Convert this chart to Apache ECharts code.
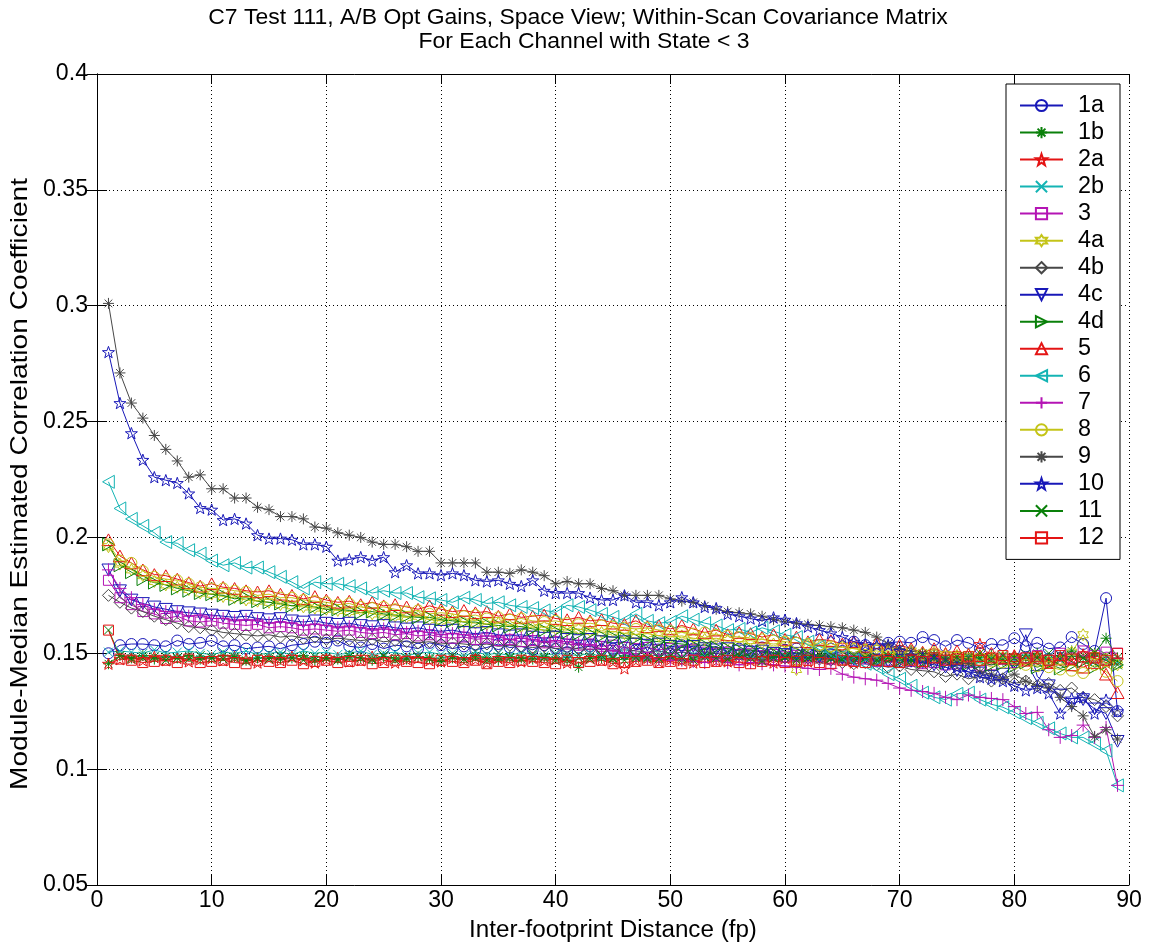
<!DOCTYPE html>
<html>
<head>
<meta charset="utf-8">
<title>C7 Test 111 Within-Scan Correlation</title>
<script src="https://cdn.jsdelivr.net/npm/echarts@6/dist/echarts.min.js"></script>
<style>
  html, body { margin: 0; padding: 0; background: #fff; }
  #chart { width: 1149px; height: 951px; }
</style>
</head>
<body>
<div id="chart"></div>
<script>
// Inter-footprint distance (fp)
const dist = [1,2,3,4,5,6,7,8,9,10,11,12,13,14,15,16,17,18,19,20,21,22,23,24,25,26,27,28,29,30,
  31,32,33,34,35,36,37,38,39,40,41,42,43,44,45,46,47,48,49,50,51,52,53,54,55,56,57,58,59,60,
  61,62,63,64,65,66,67,68,69,70,71,72,73,74,75,76,77,78,79,80,81,82,83,84,85,86,87,88,89];

// Module-median estimated correlation coefficient, one array per channel
const ch1a = [0.150,0.1535,0.154,0.154,0.1535,0.153,0.1555,0.154,0.1545,0.1555,
  0.153,0.1535,0.152,0.1525,0.153,0.152,0.1535,0.154,0.155,0.1545,
  0.1555,0.153,0.1525,0.154,0.152,0.1535,0.153,0.152,0.1545,0.1535,
  0.152,0.153,0.1515,0.1525,0.154,0.1525,0.153,0.1515,0.1535,0.152,
  0.1505,0.1525,0.153,0.1515,0.152,0.150,0.1515,0.1525,0.151,0.150,
  0.1535,0.152,0.1515,0.153,0.1505,0.152,0.151,0.1525,0.150,0.1515,
  0.152,0.150,0.1535,0.152,0.151,0.155,0.1535,0.152,0.1545,0.155,
  0.1545,0.157,0.1557,0.153,0.1557,0.1545,0.152,0.154,0.1535,0.1565,
  0.153,0.1545,0.152,0.1525,0.157,0.154,0.151,0.1738,0.125];
const ch1b = [0.1455,0.149,0.148,0.149,0.1475,0.1485,0.148,0.149,0.1475,0.148,
  0.149,0.1485,0.147,0.148,0.1485,0.1475,0.148,0.149,0.147,0.148,
  0.1475,0.149,0.148,0.147,0.1485,0.148,0.1475,0.1485,0.148,0.1465,
  0.148,0.1475,0.149,0.148,0.147,0.1485,0.148,0.1475,0.1485,0.148,
  0.147,0.144,0.1485,0.148,0.1475,0.149,0.148,0.1475,0.148,0.1485,
  0.147,0.148,0.1495,0.148,0.1475,0.149,0.148,0.147,0.1485,0.148,
  0.1475,0.149,0.148,0.1485,0.147,0.148,0.149,0.1475,0.148,0.1485,
  0.147,0.148,0.1495,0.148,0.147,0.1485,0.148,0.149,0.147,0.1485,
  0.148,0.150,0.1475,0.149,0.151,0.148,0.150,0.1565,0.148];
const ch2a = [0.1455,0.1475,0.148,0.147,0.1485,0.147,0.148,0.1465,0.1475,0.148,
  0.147,0.1485,0.1475,0.146,0.148,0.147,0.1485,0.147,0.146,0.1475,
  0.148,0.1465,0.147,0.1485,0.147,0.146,0.1475,0.148,0.147,0.1465,
  0.148,0.147,0.1475,0.146,0.148,0.147,0.1465,0.148,0.147,0.1475,
  0.146,0.1475,0.148,0.147,0.1465,0.1435,0.147,0.148,0.1465,0.1475,
  0.147,0.146,0.148,0.147,0.1465,0.148,0.147,0.1475,0.146,0.148,
  0.147,0.1465,0.148,0.1475,0.147,0.146,0.148,0.147,0.1485,0.147,
  0.1475,0.146,0.148,0.1475,0.149,0.147,0.154,0.148,0.1475,0.149,
  0.147,0.1485,0.146,0.148,0.147,0.1495,0.148,0.146,0.147];
const ch2b = [0.1505,0.151,0.1505,0.150,0.1515,0.150,0.1505,0.151,0.150,0.1495,
  0.1505,0.150,0.151,0.1495,0.150,0.1505,0.1495,0.151,0.150,0.1505,
  0.1495,0.150,0.151,0.1495,0.150,0.1505,0.149,0.150,0.1505,0.1495,
  0.150,0.149,0.1505,0.1495,0.150,0.149,0.1505,0.1495,0.149,0.150,
  0.1495,0.149,0.150,0.1485,0.1495,0.150,0.149,0.1485,0.1495,0.149,
  0.1485,0.1495,0.149,0.148,0.1495,0.1485,0.149,0.148,0.1485,0.149,
  0.148,0.1485,0.1475,0.149,0.148,0.1485,0.1475,0.148,0.149,0.1475,
  0.148,0.147,0.1485,0.148,0.1475,0.149,0.147,0.148,0.1485,0.147,
  0.148,0.1465,0.1485,0.147,0.149,0.148,0.1465,0.1475,0.146];
const ch3 = [0.1815,0.174,0.171,0.168,0.167,0.165,0.166,0.164,0.1635,0.164,
  0.163,0.1625,0.162,0.1625,0.161,0.1615,0.161,0.160,0.1605,0.160,
  0.1595,0.160,0.159,0.1585,0.159,0.158,0.1585,0.1575,0.158,0.157,
  0.1565,0.157,0.156,0.1565,0.1555,0.156,0.155,0.1555,0.1545,0.155,
  0.154,0.1535,0.154,0.153,0.1535,0.1525,0.152,0.1525,0.1515,0.152,
  0.151,0.1515,0.1505,0.150,0.1505,0.1495,0.150,0.149,0.1495,0.1485,
  0.149,0.148,0.1485,0.1475,0.148,0.147,0.1475,0.1465,0.147,0.146,
  0.1465,0.1455,0.146,0.145,0.1455,0.146,0.1445,0.145,0.1475,0.146,
  0.148,0.149,0.147,0.150,0.148,0.151,0.149,0.1505,0.150];
const ch4a = [0.196,0.1885,0.186,0.1835,0.181,0.1795,0.1785,0.1775,0.176,0.1755,
  0.1745,0.174,0.173,0.1725,0.172,0.171,0.1705,0.170,0.1695,0.169,
  0.1685,0.168,0.1685,0.167,0.1665,0.166,0.1655,0.166,0.1645,0.164,
  0.1645,0.1635,0.163,0.1625,0.163,0.162,0.1615,0.161,0.1615,0.1605,
  0.160,0.1605,0.1595,0.159,0.1595,0.1585,0.158,0.1585,0.1575,0.157,
  0.1575,0.1565,0.156,0.1565,0.1555,0.155,0.1555,0.1545,0.154,0.1545,
  0.143,0.1535,0.153,0.1525,0.153,0.152,0.1515,0.152,0.151,0.1505,
  0.151,0.150,0.1505,0.1495,0.149,0.1495,0.1485,0.148,0.1485,0.1475,
  0.147,0.1475,0.1465,0.147,0.1505,0.158,0.149,0.1475,0.145];
const ch4b = [0.175,0.172,0.1695,0.168,0.166,0.1645,0.163,0.1615,0.161,0.160,
  0.159,0.1585,0.158,0.1575,0.158,0.157,0.1575,0.1565,0.157,0.156,
  0.1565,0.156,0.1555,0.156,0.155,0.1555,0.155,0.1545,0.155,0.154,
  0.1545,0.154,0.1535,0.154,0.153,0.1535,0.153,0.1525,0.153,0.152,
  0.1525,0.152,0.1515,0.152,0.151,0.1515,0.151,0.1505,0.151,0.150,
  0.1505,0.150,0.1495,0.150,0.149,0.1495,0.149,0.1485,0.149,0.148,
  0.1485,0.148,0.1475,0.147,0.146,0.1455,0.146,0.145,0.144,0.1445,
  0.143,0.1425,0.142,0.140,0.141,0.139,0.140,0.138,0.139,0.137,
  0.138,0.136,0.137,0.134,0.135,0.131,0.130,0.127,0.123];
const ch4c = [0.186,0.177,0.173,0.1715,0.170,0.169,0.168,0.1675,0.167,0.1665,
  0.166,0.1655,0.166,0.165,0.1645,0.165,0.164,0.1635,0.164,0.163,
  0.1625,0.163,0.162,0.1615,0.162,0.161,0.1605,0.161,0.160,0.1595,
  0.160,0.159,0.1585,0.159,0.158,0.1575,0.158,0.157,0.1565,0.157,
  0.156,0.1555,0.156,0.155,0.1545,0.155,0.154,0.1535,0.154,0.153,
  0.1525,0.153,0.152,0.1515,0.152,0.151,0.1505,0.151,0.150,0.1495,
  0.150,0.149,0.1485,0.149,0.148,0.1475,0.148,0.147,0.1465,0.147,
  0.1465,0.146,0.145,0.144,0.1425,0.142,0.1415,0.140,0.141,0.145,
  0.158,0.140,0.136,0.132,0.128,0.130,0.126,0.124,0.112];
const ch4d = [0.197,0.188,0.185,0.182,0.1805,0.1795,0.178,0.177,0.176,0.1755,
  0.175,0.1735,0.174,0.1725,0.172,0.1715,0.1705,0.171,0.170,0.169,
  0.169,0.1685,0.1675,0.168,0.167,0.1665,0.166,0.1655,0.1655,0.1645,
  0.164,0.1635,0.1635,0.1625,0.162,0.1615,0.1615,0.1605,0.160,0.1595,
  0.159,0.1585,0.1585,0.1575,0.157,0.1565,0.1565,0.1555,0.155,0.1545,
  0.154,0.1535,0.1535,0.1525,0.152,0.1515,0.1515,0.1505,0.150,0.1495,
  0.1505,0.149,0.1495,0.1485,0.149,0.148,0.1485,0.1475,0.148,0.147,
  0.1475,0.1465,0.147,0.146,0.1465,0.1455,0.146,0.145,0.1455,0.1445,
  0.146,0.144,0.1455,0.1435,0.145,0.1465,0.144,0.1455,0.145];
const ch5 = [0.199,0.192,0.189,0.186,0.184,0.1835,0.182,0.1805,0.179,0.180,
  0.1785,0.178,0.177,0.1765,0.177,0.1755,0.175,0.1735,0.1745,0.173,
  0.172,0.1725,0.171,0.172,0.1705,0.171,0.170,0.169,0.1705,0.169,
  0.168,0.1685,0.1675,0.168,0.166,0.167,0.1655,0.166,0.1665,0.165,
  0.1645,0.1655,0.164,0.1645,0.163,0.1625,0.164,0.1615,0.162,0.1605,
  0.162,0.1605,0.159,0.160,0.158,0.159,0.1585,0.157,0.158,0.156,
  0.157,0.155,0.156,0.1555,0.154,0.155,0.153,0.1545,0.152,0.1535,
  0.152,0.1505,0.152,0.150,0.151,0.1495,0.149,0.150,0.148,0.149,
  0.147,0.148,0.146,0.1475,0.145,0.144,0.146,0.141,0.133];
const ch6 = [0.224,0.2125,0.208,0.205,0.202,0.198,0.1975,0.1945,0.193,0.190,
  0.188,0.189,0.187,0.187,0.185,0.183,0.1807,0.178,0.1807,0.180,
  0.180,0.179,0.178,0.176,0.177,0.176,0.176,0.1742,0.1737,0.173,
  0.172,0.174,0.173,0.1715,0.172,0.1707,0.170,0.1695,0.1685,0.1677,
  0.1707,0.170,0.1686,0.167,0.1657,0.164,0.167,0.164,0.163,0.1635,
  0.166,0.1645,0.163,0.162,0.160,0.1605,0.159,0.161,0.1595,0.158,
  0.157,0.155,0.153,0.1505,0.149,0.147,0.1455,0.144,0.141,0.139,
  0.136,0.133,0.131,0.130,0.1325,0.133,0.130,0.128,0.1267,0.1245,
  0.122,0.120,0.1176,0.1154,0.1137,0.1137,0.111,0.108,0.093];
const ch7 = [0.186,0.178,0.174,0.171,0.169,0.168,0.1675,0.166,0.1665,0.165,
  0.165,0.164,0.1645,0.164,0.163,0.1635,0.163,0.162,0.1625,0.162,
  0.161,0.1615,0.161,0.160,0.1605,0.160,0.159,0.1595,0.159,0.158,
  0.1585,0.158,0.157,0.1575,0.157,0.156,0.1565,0.156,0.155,0.1555,
  0.155,0.154,0.1535,0.152,0.151,0.150,0.149,0.148,0.1475,0.147,
  0.147,0.1465,0.146,0.147,0.146,0.145,0.146,0.1455,0.145,0.1445,
  0.144,0.1435,0.143,0.1435,0.141,0.1397,0.139,0.1384,0.137,0.135,
  0.134,0.1335,0.1327,0.131,0.130,0.132,0.131,0.1305,0.130,0.127,
  0.124,0.1245,0.117,0.1137,0.1145,0.119,0.1137,0.118,0.093];
const ch8 = [0.197,0.190,0.189,0.1855,0.183,0.182,0.1815,0.180,0.1785,0.178,
  0.178,0.177,0.1765,0.175,0.1755,0.174,0.174,0.173,0.1725,0.172,
  0.171,0.1715,0.170,0.1695,0.170,0.169,0.168,0.1685,0.167,0.1675,
  0.167,0.166,0.1665,0.165,0.1655,0.1645,0.165,0.164,0.1635,0.164,
  0.163,0.1625,0.163,0.162,0.1615,0.161,0.1605,0.161,0.160,0.1595,
  0.159,0.1585,0.159,0.158,0.1575,0.157,0.1565,0.156,0.1555,0.155,
  0.1545,0.154,0.1535,0.153,0.1525,0.152,0.1515,0.151,0.1505,0.150,
  0.150,0.1495,0.149,0.1485,0.148,0.1475,0.147,0.1465,0.146,0.1455,
  0.145,0.1445,0.144,0.143,0.1425,0.1415,0.145,0.142,0.138];
const ch9 = [0.301,0.271,0.258,0.2515,0.244,0.238,0.233,0.226,0.227,0.221,
  0.221,0.217,0.217,0.213,0.212,0.209,0.209,0.208,0.2045,0.204,
  0.202,0.201,0.200,0.198,0.197,0.197,0.196,0.194,0.194,0.189,
  0.189,0.189,0.189,0.185,0.185,0.1845,0.186,0.185,0.1835,0.180,
  0.181,0.180,0.180,0.178,0.177,0.175,0.175,0.175,0.175,0.1735,
  0.1725,0.172,0.1705,0.169,0.168,0.1675,0.167,0.166,0.1645,0.1635,
  0.163,0.1625,0.162,0.1615,0.161,0.160,0.159,0.157,0.154,0.152,
  0.151,0.150,0.149,0.148,0.146,0.1455,0.142,0.141,0.139,0.141,
  0.138,0.136,0.135,0.131,0.127,0.123,0.114,0.117,0.113];
const ch10 = [0.280,0.258,0.245,0.2335,0.226,0.2247,0.2235,0.219,0.2127,0.212,
  0.2075,0.208,0.206,0.201,0.1995,0.1995,0.199,0.197,0.197,0.196,
  0.190,0.1905,0.1915,0.190,0.1915,0.185,0.188,0.1845,0.1845,0.1837,
  0.1845,0.1837,0.1815,0.181,0.1815,0.180,0.179,0.1815,0.177,0.176,
  0.176,0.176,0.174,0.173,0.173,0.175,0.172,0.172,0.1707,0.172,
  0.1742,0.172,0.170,0.1695,0.167,0.166,0.165,0.164,0.1655,0.1645,
  0.163,0.1615,0.160,0.1586,0.157,0.155,0.154,0.1535,0.1535,0.151,
  0.149,0.148,0.147,0.1455,0.144,0.142,0.1397,0.139,0.138,0.136,
  0.134,0.135,0.1327,0.124,0.1305,0.131,0.124,0.130,0.125];
const ch11 = [0.160,0.149,0.1475,0.148,0.1485,0.147,0.148,0.1475,0.149,0.148,
  0.1475,0.148,0.1465,0.148,0.1475,0.149,0.148,0.147,0.1485,0.148,
  0.147,0.1485,0.148,0.1475,0.149,0.147,0.148,0.1485,0.1475,0.148,
  0.149,0.1475,0.148,0.147,0.1485,0.148,0.1475,0.149,0.148,0.147,
  0.1485,0.148,0.1475,0.149,0.148,0.147,0.1485,0.148,0.1475,0.149,
  0.148,0.147,0.1485,0.148,0.1475,0.149,0.148,0.1465,0.148,0.1485,
  0.147,0.148,0.1495,0.148,0.1475,0.149,0.148,0.147,0.1485,0.148,
  0.1475,0.149,0.148,0.147,0.1485,0.148,0.150,0.1475,0.149,0.148,
  0.1495,0.148,0.150,0.1475,0.149,0.148,0.1505,0.149,0.145];
const ch12 = [0.160,0.1475,0.147,0.146,0.1465,0.147,0.146,0.1475,0.146,0.1465,
  0.147,0.146,0.1455,0.147,0.1465,0.146,0.147,0.1455,0.1465,0.147,
  0.146,0.1465,0.147,0.1455,0.146,0.147,0.1465,0.146,0.1455,0.147,
  0.1465,0.146,0.147,0.1455,0.1465,0.146,0.147,0.1465,0.146,0.1455,
  0.147,0.146,0.1465,0.147,0.1455,0.146,0.1465,0.147,0.146,0.1465,
  0.1455,0.147,0.146,0.1465,0.147,0.146,0.1455,0.1465,0.147,0.146,
  0.1465,0.147,0.146,0.1455,0.147,0.1465,0.146,0.147,0.1465,0.146,
  0.147,0.1465,0.148,0.147,0.1475,0.1485,0.147,0.148,0.149,0.1475,
  0.148,0.1485,0.147,0.149,0.1475,0.1485,0.148,0.147,0.150];

const channelNames = ['1a','1b','2a','2b','3','4a','4b','4c','4d','5','6','7','8','9','10','11','12'];
const channelValues = [ch1a,ch1b,ch2a,ch2b,ch3,ch4a,ch4b,ch4c,ch4d,ch5,ch6,ch7,ch8,ch9,ch10,ch11,ch12];

const titleLines = [
  'C7 Test 111, A/B Opt Gains, Space View; Within-Scan Covariance Matrix',
  'For Each Channel with State < 3'
];
const xAxisTitle = 'Inter-footprint Distance (fp)';
const yAxisTitle = 'Module-Median Estimated Correlation Coefficient';

// Line colour order and marker order
const C = {
  b: '#1818b8', g: '#0a800a', r: '#e41414', c: '#14b4b4',
  m: '#b414b4', y: '#c4c418', k: '#474747'
};
const channelColors = [C.b, C.g, C.r, C.c, C.m, C.y, C.k, C.b, C.g, C.r, C.c, C.m, C.y, C.k, C.b, C.g, C.r];

function starPath(n, inner) {
  let d = '';
  for (let i = 0; i < 2 * n; i++) {
    const r = (i % 2) ? inner : 1;
    const a = -Math.PI / 2 + i * Math.PI / n;
    d += (i ? 'L' : 'M') + (50 + 50 * r * Math.cos(a)).toFixed(2) + ' ' + (50 + 50 * r * Math.sin(a)).toFixed(2);
  }
  return 'path://' + d + 'Z';
}
const MK = {
  circle:   { symbol: 'circle', size: 11 },
  asterisk: { symbol: 'path://M5 0L5 10M0 5L10 5M1.5 1.5L8.5 8.5M8.5 1.5L1.5 8.5', size: 11 },
  penta:    { symbol: starPath(5, 0.40), size: 12 },
  xmark:    { symbol: 'path://M0 0L10 10M10 0L0 10', size: 9 },
  square:   { symbol: 'rect', size: 10 },
  hexa:     { symbol: starPath(6, 0.577), size: 12 },
  diamond:  { symbol: 'diamond', size: 12 },
  down:     { symbol: 'path://M0 0L10 0L5 9Z', size: 13 },
  right:    { symbol: 'path://M0 0L9 5L0 10Z', size: 13 },
  up:       { symbol: 'path://M5 0L10 9L0 9Z', size: 13 },
  left:     { symbol: 'path://M9 0L0 5L9 10Z', size: 13 },
  plus:     { symbol: 'path://M5 0L5 10M0 5L10 5', size: 13 }
};
const channelMarkers = [MK.circle, MK.asterisk, MK.penta, MK.xmark, MK.square, MK.hexa, MK.diamond,
  MK.down, MK.right, MK.up, MK.left, MK.plus, MK.circle, MK.asterisk, MK.penta, MK.xmark, MK.square];

// Fonts: a narrow sans for horizontal text when present, sized by measured width
const measureCtx = document.createElement('canvas').getContext('2d');
function textWidth(font, text) { measureCtx.font = font; return measureCtx.measureText(text).width; }
const probe = 'Inter-footprint Distance';
const hasNarrow = Math.abs(textWidth("50px 'Liberation Sans Narrow', monospace", probe) -
                           textWidth('50px monospace', probe)) > 1;
const FONT = hasNarrow ? "'Liberation Sans Narrow', 'Liberation Sans', Arial, sans-serif"
                       : "'Liberation Sans', Arial, sans-serif";
const REG = "'Liberation Sans', Arial, sans-serif";
function fitSize(family, text, target) { return target * 100 / textWidth('100px ' + family, text); }

const titleSize = fitSize(FONT, titleLines[0], 740);
const tickSize = fitSize(FONT, '0.35', 45);
const xNameSize = fitSize(FONT, xAxisTitle, 288);
const legendSize = fitSize(FONT, '12', 26);
const yNameSize = 24;
const yNameStretch = 612 / textWidth(yNameSize + 'px ' + REG, yAxisTitle);
const legendTextW = Math.max.apply(null, channelNames.map(n => textWidth(legendSize + 'px ' + FONT, n)));
const legendPadRight = Math.max(4, 113 - 13 - 43 - 5 - 10 - legendTextW);
// entries sit 27.4 px apart; each entry is as tall as its text
const legendGap = Math.max(0, 27.4 - legendSize);

const series = channelNames.map((name, i) => ({
  name: name,
  type: 'line',
  data: dist.map((d, j) => [d, channelValues[i][j]]),
  symbol: channelMarkers[i].symbol,
  symbolSize: channelMarkers[i].size,
  symbolKeepAspect: true,
  showSymbol: true,
  lineStyle: { color: channelColors[i], width: 1 },
  itemStyle: { color: 'rgba(0,0,0,0)', borderColor: channelColors[i], borderWidth: 1 },
  emphasis: { disabled: true },
  animation: false,
  z: 2
}));

const axisCommon = {
  type: 'value',
  axisLine: { show: true, lineStyle: { color: '#000', width: 1 } },
  axisTick: { show: true, inside: true, length: 10, lineStyle: { color: '#000' } },
  axisLabel: { color: '#000', fontFamily: FONT, fontSize: tickSize },
  splitLine: { show: false }
};

const chart = echarts.init(document.getElementById('chart'), null, { renderer: 'canvas' });
chart.setOption({
  backgroundColor: '#fff',
  animation: false,
  graphic: [
    { type: 'text', x: 578, y: 18, silent: true,
      style: { text: titleLines[0], font: titleSize + 'px ' + FONT, fill: '#000', align: 'center', verticalAlign: 'middle' } },
    { type: 'text', x: 584, y: 42, silent: true,
      style: { text: titleLines[1], font: titleSize + 'px ' + FONT, fill: '#000', align: 'center', verticalAlign: 'middle' } },
    { type: 'text', x: 613, y: 930, silent: true,
      style: { text: xAxisTitle, font: xNameSize + 'px ' + FONT, fill: '#000', align: 'center', verticalAlign: 'middle' } },
    { type: 'text', x: 20, y: 484, rotation: Math.PI / 2, scaleX: yNameStretch, silent: true,
      style: { text: yAxisTitle, font: yNameSize + 'px ' + REG, fill: '#000', align: 'center', verticalAlign: 'middle' } }
  ],
  grid: { left: 97, right: 20, top: 74, bottom: 66, containLabel: false },
  legend: {
    orient: 'vertical',
    left: 1006,
    top: 84,
    data: channelNames,
    selectedMode: false,
    itemWidth: 43,
    itemHeight: 14,
    itemGap: legendGap,
    padding: [10, legendPadRight, 10, 13],
    borderColor: '#000',
    borderWidth: 1,
    backgroundColor: '#fff',
    textStyle: { fontFamily: FONT, fontSize: legendSize, color: '#000', padding: [0, 0, 0, 10] },
    z: 10
  },
  xAxis: [
    Object.assign({}, axisCommon, {
      min: 0, max: 90, interval: 10, position: 'bottom',
      axisLabel: Object.assign({}, axisCommon.axisLabel, { margin: Math.max(0, 16 - tickSize / 2) }),
      splitLine: { show: true, lineStyle: { color: '#000', width: 1, type: [1, 3] } }
    }),
    Object.assign({}, axisCommon, {
      min: 0, max: 90, interval: 10, position: 'top',
      axisLabel: { show: false }
    })
  ],
  yAxis: [
    Object.assign({}, axisCommon, {
      min: 0.05, max: 0.4, interval: 0.05, position: 'left',
      axisLabel: Object.assign({}, axisCommon.axisLabel, {
        margin: 9,
        formatter: v => String(Math.round(v * 100) / 100)
      }),
      splitLine: { show: true, lineStyle: { color: '#000', width: 1, type: [1, 3] } }
    }),
    Object.assign({}, axisCommon, {
      min: 0.05, max: 0.4, interval: 0.05, position: 'right',
      axisLabel: { show: false }
    })
  ],
  series: series
});
</script>
</body>
</html>
